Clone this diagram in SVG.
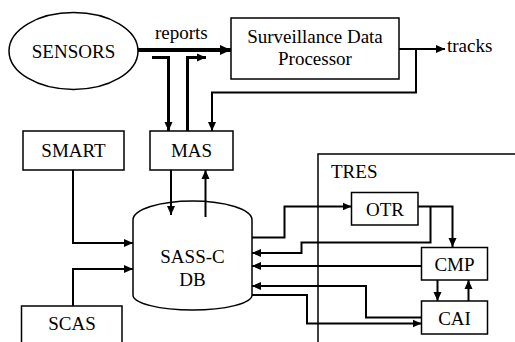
<svg xmlns="http://www.w3.org/2000/svg" width="515" height="342" viewBox="0 0 515 342">
<style>
text{font-family:'Liberation Serif','Times New Roman',Times,'DejaVu Serif',serif;font-size:19px;fill:#000}
.c{text-anchor:middle}
.box{fill:#fff;stroke:#000;stroke-width:1.5}
.ln{fill:none;stroke:#000;stroke-width:2}
.tk{fill:none;stroke:#000;stroke-width:3}
</style>
<defs>
<marker id="ah" markerUnits="userSpaceOnUse" markerWidth="9" markerHeight="9" viewBox="0 0 9 9" refX="9" refY="4.5" orient="auto"><path d="M0,0.5 L9,4.5 L0,8.5 Z" fill="#000"/></marker>
<marker id="ahb" markerUnits="userSpaceOnUse" markerWidth="11" markerHeight="11" viewBox="0 0 11 11" refX="11" refY="5.5" orient="auto"><path d="M0,0.5 L11,5.5 L0,10.5 Z" fill="#000"/></marker>
</defs>
<rect width="515" height="342" fill="#fff"/>
<g id="tres">
<path d="M318,342 V154 H515" fill="none" stroke="#000" stroke-width="1.5"/>
<text x="331" y="178">TRES</text>
</g>
<g id="connectors">
<path d="M138,50 H231" fill="none" stroke="#000" stroke-width="4" marker-end="url(#ahb)"/>
<text x="155" y="39">reports</text>
<path class="tk" d="M152,57.5 H168.5 V131" marker-end="url(#ah)"/>
<path class="tk" d="M187.5,131 V57.5 H206" marker-end="url(#ah)"/>
<path class="ln" d="M399,49 H445" marker-end="url(#ah)"/>
<path class="ln" d="M416,49 V92.5 H212 V131" marker-end="url(#ah)"/>
<path class="ln" d="M171,170 V215" marker-end="url(#ah)"/>
<path class="ln" d="M205.5,217 V170" marker-end="url(#ah)"/>
<path class="ln" d="M73,170 V243 H133" marker-end="url(#ah)"/>
<path class="ln" d="M73,306 V269 H133" marker-end="url(#ah)"/>
<path class="ln" d="M252,237.5 H284.5 V206.5 H351.5" marker-end="url(#ah)"/>
<path class="ln" d="M418,206.5 H452.5 V247" marker-end="url(#ah)"/>
<path class="ln" d="M430.5,206.5 V242.5 H301.5 V253 H252" marker-end="url(#ah)"/>
<path class="ln" d="M421.5,266 H252" marker-end="url(#ah)"/>
<path class="ln" d="M421.5,317.5 H366 V286 H252" marker-end="url(#ah)"/>
<path class="ln" d="M252,295 H307 V323.5 H421.5" marker-end="url(#ah)"/>
<path class="ln" d="M437.5,280 V301" marker-end="url(#ah)"/>
<path class="ln" d="M468.5,301 V280" marker-end="url(#ah)"/>
<text x="447" y="52">tracks</text>
</g>
<g id="sensors">
<ellipse cx="73.5" cy="51" rx="64.5" ry="38.5" class="box"/>
<text class="c" x="73.5" y="57.5">SENSORS</text>
</g>
<g id="sdp">
<rect class="box" x="231" y="18" width="168" height="61"/>
<text class="c" x="315" y="42.5">Surveillance Data</text>
<text class="c" x="315" y="65">Processor</text>
</g>
<g id="smart">
<rect class="box" x="23" y="131" width="101" height="39"/>
<text class="c" x="73.5" y="157">SMART</text>
</g>
<g id="mas">
<rect class="box" x="150" y="131" width="83" height="39"/>
<text class="c" x="191.5" y="157">MAS</text>
</g>
<g id="db">
<path d="M133,220 A59.5,19 0 0 1 252,220 V295 A59.5,15 0 0 1 133,295 Z" fill="none" stroke="#000" stroke-width="1.5"/>
<text class="c" x="192.5" y="262.5">SASS-C</text>
<text class="c" x="192.5" y="286">DB</text>
</g>
<g id="scas">
<rect class="box" x="21.5" y="306" width="100.5" height="50"/>
<text class="c" x="72" y="330">SCAS</text>
</g>
<g id="otr">
<rect class="box" x="351.5" y="192.5" width="66.5" height="32.5"/>
<text class="c" x="385" y="216">OTR</text>
</g>
<g id="cmp">
<rect class="box" x="421.5" y="247.5" width="66" height="32.5"/>
<text class="c" x="454.5" y="271">CMP</text>
</g>
<g id="cai">
<rect class="box" x="421.5" y="301" width="66" height="33"/>
<text class="c" x="454.5" y="325">CAI</text>
</g>
</svg>
